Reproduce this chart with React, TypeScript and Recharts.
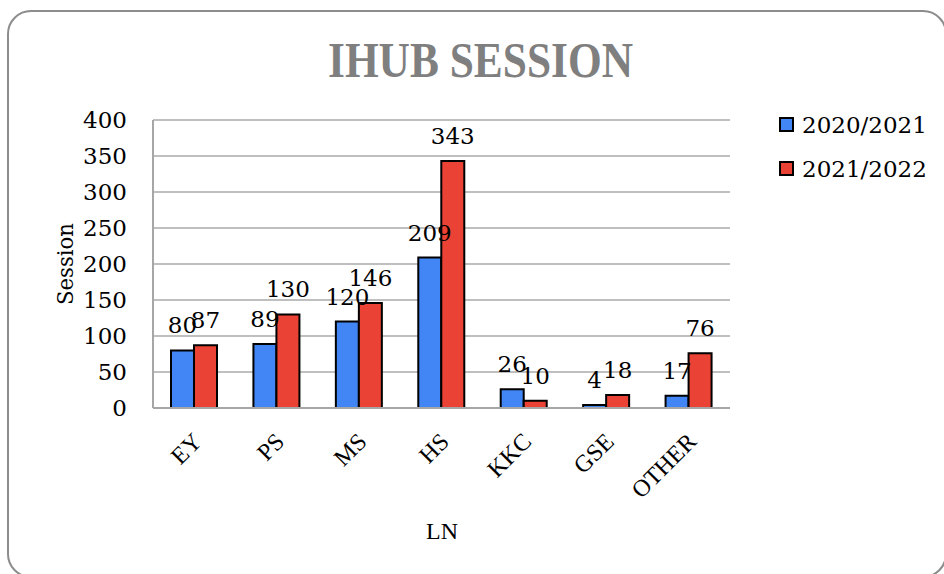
import { Bar, BarChart, CartesianGrid, LabelList, XAxis, YAxis } from 'recharts'

const categories = ['EY', 'PS', 'MS', 'HS', 'KKC', 'GSE', 'OTHER']
const sessions2021 = [80, 89, 120, 209, 26, 4, 17]
const sessions2022 = [87, 130, 146, 343, 10, 18, 76]
const yTicks = [0, 50, 100, 150, 200, 250, 300, 350, 400]
const seriesNames = ['2020/2021', '2021/2022']
const seriesColors = ['#4285f4', '#ea4335']

const data = categories.map((ln, i) => ({
  ln,
  a: sessions2021[i],
  b: sessions2022[i],
}))

const numFont = 'DejaVu Serif, serif'
const textFont = 'Liberation Serif, serif'

function XTick({ x, y, payload }: any) {
  const ex = x + 9
  const ey = y + 33
  return (
    <text
      x={ex}
      y={ey}
      transform={`rotate(-45, ${ex}, ${ey})`}
      textAnchor="end"
      fontFamily={textFont}
      fontSize={24}
      fill="#000"
    >
      {payload.value}
    </text>
  )
}

export default function App() {
  return (
    <div
      style={{
        position: 'fixed',
        left: 0,
        top: 0,
        width: 944,
        height: 574,
        overflow: 'hidden',
        background: '#fff',
      }}
    >
      <div
        style={{
          position: 'absolute',
          left: 7,
          top: 10,
          width: 940,
          height: 568,
          border: '2px solid #8c8c8c',
          borderRadius: 24,
          boxSizing: 'border-box',
        }}
      />
      <div style={{ position: 'absolute', left: 0, top: 0 }}>
        <BarChart
          width={944}
          height={574}
          data={data}
          margin={{ top: 120, right: 214, bottom: 66, left: 0 }}
          barCategoryGap={18}
          barGap={0}
        >
          <CartesianGrid vertical={false} stroke="#bfbfbf" strokeWidth={2} />
          <XAxis
            dataKey="ln"
            height={100}
            tick={<XTick />}
            tickLine={false}
            tickSize={0}
            axisLine={{ stroke: '#a6a6a6', strokeWidth: 2 }}
            interval={0}
          />
          <YAxis
            width={153}
            domain={[0, 400]}
            ticks={yTicks}
            tickLine={false}
            tickSize={0}
            tickMargin={26}
            axisLine={{ stroke: '#a6a6a6', strokeWidth: 2 }}
            tick={{ fill: '#000', fontSize: 23, fontFamily: numFont }}
          />
          <Bar dataKey="a" fill={seriesColors[0]} stroke="#000" strokeWidth={2} isAnimationActive={false}>
            <LabelList dataKey="a" position="top" offset={17} fill="#000" fontSize={23} fontFamily={numFont} />
          </Bar>
          <Bar dataKey="b" fill={seriesColors[1]} stroke="#000" strokeWidth={2} isAnimationActive={false}>
            <LabelList dataKey="b" position="top" offset={17} fill="#000" fontSize={23} fontFamily={numFont} />
          </Bar>
        </BarChart>
      </div>
      <svg
        width={944}
        height={574}
        style={{ position: 'absolute', left: 0, top: 0, pointerEvents: 'none' }}
      >
        <text
          x={480.5}
          y={77}
          textAnchor="middle"
          fontFamily={textFont}
          fontWeight="bold"
          fontSize={51}
          fill="#7f7f7f"
          textLength={305}
          lengthAdjust="spacingAndGlyphs"
        >
          IHUB SESSION
        </text>
        <text
          x={73}
          y={264}
          transform="rotate(-90, 73, 264)"
          textAnchor="middle"
          fontFamily={numFont}
          fontSize={22}
          fill="#000"
          textLength={82}
          lengthAdjust="spacingAndGlyphs"
        >
          Session
        </text>
        <text x={442} y={539} textAnchor="middle" fontFamily={textFont} fontSize={24} fill="#000">
          LN
        </text>
        {seriesNames.map((name, i) => (
          <g key={name}>
            <rect
              x={780}
              y={118 + i * 44}
              width={13}
              height={13}
              fill={seriesColors[i]}
              stroke="#000"
              strokeWidth={2}
            />
            <text x={802} y={133 + i * 44} fontFamily={numFont} fontSize={23} fill="#000">
              {name}
            </text>
          </g>
        ))}
      </svg>
    </div>
  )
}
